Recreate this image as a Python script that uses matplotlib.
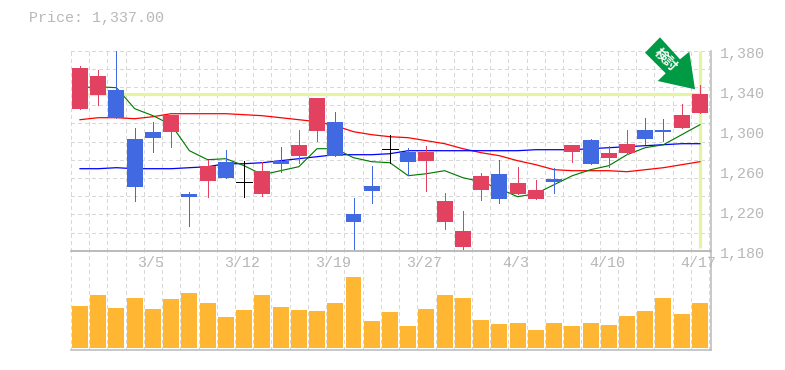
import matplotlib
matplotlib.use("Agg")
import matplotlib.pyplot as plt
from matplotlib.patches import Polygon
import numpy as np

W, H = 785, 370

opens = [1322, 1336, 1341, 1292, 1299, 1299, 1237, 1250, 1269, 1249, 1237, 1270, 1275, 1300, 1309, 1217, 1245, 1282,
         1279, 1270, 1209, 1184, 1241, 1257, 1237, 1232, 1252, 1279, 1291, 1273, 1278, 1301, 1301, 1303, 1318]
closes = [1363, 1355, 1313, 1244, 1293, 1316, 1234, 1265, 1253, 1249, 1260, 1267, 1286, 1333, 1275, 1209, 1240, 1282,
          1269, 1279, 1230, 1200, 1255, 1232, 1248, 1241, 1249, 1286, 1267, 1278, 1287, 1292, 1299, 1316, 1337]
highs = [1365, 1361, 1385, 1303, 1309, 1316, 1239, 1271, 1281, 1270, 1269, 1284, 1301, 1333, 1319, 1233, 1265, 1296,
         1283, 1285, 1238, 1220, 1258, 1271, 1264, 1251, 1263, 1286, 1292, 1285, 1301, 1313, 1312, 1327, 1346]
lows = [1322, 1326, 1313, 1230, 1279, 1284, 1205, 1234, 1253, 1234, 1235, 1259, 1268, 1290, 1275, 1178, 1228, 1268,
        1256, 1240, 1202, 1182, 1231, 1228, 1237, 1232, 1238, 1269, 1267, 1264, 1277, 1287, 1290, 1303, 1318]

ma_short = [1343, 1344, 1343, 1322, 1315, 1306, 1280, 1271, 1272, 1265, 1256, 1260, 1264, 1282, 1282, 1273, 1269, 1268,
            1255, 1257, 1260, 1253, 1249, 1242, 1234, 1237, 1246, 1255, 1261, 1265, 1276, 1283, 1286, 1296, 1306]
ma_mid = [1262, 1262, 1263, 1262, 1262, 1262, 1263, 1264, 1267, 1267, 1268, 1270, 1272, 1274, 1276, 1276, 1276, 1277,
          1280, 1280, 1280, 1280, 1280, 1280, 1280, 1281, 1281, 1281, 1282, 1283, 1284, 1285, 1286, 1287, 1287]
ma_long = [1311, 1313, 1313, 1312, 1314, 1317, 1317, 1317, 1317, 1316, 1315, 1313, 1311, 1309, 1305, 1299, 1296, 1294,
           1293, 1290, 1287, 1282, 1278, 1275, 1270, 1266, 1261, 1260, 1260, 1260, 1259, 1261, 1263, 1266, 1269]

volumes = [42, 53, 40, 50, 39, 49, 55, 45, 31, 38, 53, 41, 38, 37, 45, 71, 27, 36,
           22, 39, 53, 50, 28, 24, 25, 18, 25, 22, 25, 23, 32, 37, 50, 34, 45]

date_labels = ["3/5", "3/12", "3/19", "3/27", "4/3", "4/10", "4/17"]
date_positions = [4, 9, 14, 19, 24, 29, 34]
price_ticks = [1180, 1220, 1260, 1300, 1340, 1380]
last_price = 1337

UP = "#E2425F"
DOWN = "#4169E1"
GRAY = "#B8B8B8"
GRID = "#D8D8D8"
HILITE = "#E4F5A2"
MONO = "Liberation Mono"
PX = 72 / 100  # one pixel in points


def axes_px(left, top, right, bottom):
    return fig.add_axes([left / W, 1 - bottom / H, (right - left) / W, (bottom - top) / H])


def style_panel(ax):
    ax.set_xlim(-0.51, 34.59)
    ax.set_xticks([])
    ax.set_yticks([])
    ax.patch.set_alpha(0)
    for side in ["top", "left"]:
        ax.spines[side].set_visible(False)
    for side in ["bottom", "right"]:
        ax.spines[side].set_color(GRAY)
        ax.spines[side].set_linewidth(1.5 * PX)
        ax.spines[side].set_zorder(6)


fig = plt.figure(figsize=(W / 100, H / 100), dpi=100, facecolor="white")
ax = axes_px(70.7, 50.7, 710.7, 250.7)
vol = axes_px(70.7, 250.7, 710.7, 350)

x = np.arange(len(opens))
grid_x = np.arange(len(opens) + 1) - 0.5
dash = (0, (3, 3))

# price panel
style_panel(ax)
ax.set_ylim(1180, 1380)
ax.vlines(grid_x, 1180, 1380, color=GRID, lw=PX, linestyles=dash, antialiased=False, zorder=1)
ax.hlines(np.linspace(1180, 1380, 12), -0.5, 34.5, color=GRID, lw=PX, linestyles=dash, antialiased=False, zorder=1)

ax.plot([-0.51, x[-1]], [last_price, last_price], color=HILITE, lw=3.2 * PX, solid_capstyle="butt", zorder=2)
ax.plot([x[-1], x[-1]], [1183, 1380], color=HILITE, lw=3.2 * PX, solid_capstyle="butt", zorder=2)

ax.plot(x, ma_long, color="#FF0000", lw=1.25 * PX, zorder=3)
ax.plot(x, ma_mid, color="#0000FF", lw=1.25 * PX, zorder=3)
ax.plot(x, ma_short, color="#007A00", lw=1.15 * PX, zorder=3)

colors = []
for o, c in zip(opens, closes):
    if c > o:
        colors.append(UP)
    elif c < o:
        colors.append(DOWN)
    else:
        colors.append("black")

ax.vlines(x, lows, highs, color=colors, lw=PX, antialiased=False, zorder=4)
bottoms = [min(o, c) for o, c in zip(opens, closes)]
heights = [abs(c - o) for o, c in zip(opens, closes)]
ax.bar(x, heights, 0.875, bottom=bottoms, color=colors, zorder=5)
for i, (o, c) in enumerate(zip(opens, closes)):
    if o == c:
        ax.hlines(o, i - 0.44, i + 0.44, color="black", lw=PX, antialiased=False, zorder=5)

for tick in price_ticks:
    ax.annotate(f"{tick:,}", (1, tick), xycoords=("axes fraction", "data"), xytext=(9, -3),
                textcoords="offset pixels", ha="left", va="center", family=MONO, fontsize=10.8, color=GRAY)

# volume panel
style_panel(vol)
vol.spines["top"].set_visible(True)
vol.spines["top"].set_color(GRAY)
vol.spines["top"].set_linewidth(1.5 * PX)
vol.set_ylim(-2, 97.3)
vol.vlines(grid_x, -2, 97.3, color=GRID, lw=PX, linestyles=dash, antialiased=False, zorder=1)
vol.bar(x, volumes, 0.875, color="#FFB733", zorder=3)
for pos, label in zip(date_positions, date_labels):
    vol.annotate(label, (pos, 1), xycoords=("data", "axes fraction"), xytext=(-2, -12),
                 textcoords="offset pixels", ha="center", va="center", family=MONO, fontsize=10.8, color=GRAY, zorder=7)

fig.text(29 / W, 1 - 18 / H, f"Price: {last_price:,.2f}", family=MONO, fontsize=10.8, color=GRAY, ha="left", va="center")

# green marker arrow over the latest candle
arrow_px = [(695, 89.3), (689.3, 51.7), (680, 59.3), (660, 37.3), (645, 52.7), (665.7, 73.3), (657.7, 81)]
arrow_fig = [(px / W, 1 - py / H) for px, py in arrow_px]
fig.add_artist(Polygon(arrow_fig, closed=True, transform=fig.transFigure, facecolor="#009A44", edgecolor="none", zorder=8))
fig.text(666 / W, 1 - 60 / H, "検討", family=["Noto Sans CJK JP", "DejaVu Sans"], fontsize=9.5, fontweight="bold",
         color="white", rotation=-45, rotation_mode="anchor", ha="center", va="center", zorder=9)

fig.savefig("out.png", dpi=100)
